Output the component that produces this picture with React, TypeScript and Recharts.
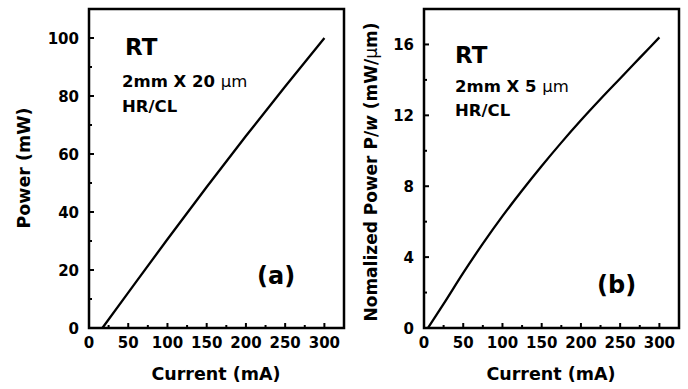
import { LineChart, Line, XAxis, YAxis, ReferenceArea } from 'recharts';

// panel (a): 2mm x 20um, power vs current
const currentA = [17, 50, 100, 150, 200, 250, 300];
const powerA = [0, 12.2, 30.6, 48.6, 66.2, 83.3, 100];

// panel (b): 2mm x 5um, normalized power vs current
const currentB = [5, 25, 50, 75, 100, 125, 150, 175, 200, 225, 250, 275, 300];
const powerB = [0, 1.36, 3.11, 4.76, 6.31, 7.76, 9.14, 10.46, 11.72, 12.92, 14.08, 15.24, 16.4];

const xTicks = [0, 25, 50, 75, 100, 125, 150, 175, 200, 225, 250, 275, 300];
const yTicksA = [0, 10, 20, 30, 40, 50, 60, 70, 80, 90, 100];
const yTicksB = [0, 2, 4, 6, 8, 10, 12, 14, 16];

const dataA = currentA.map((c, i) => ({ current: c, power: powerA[i] }));
const dataB = currentB.map((c, i) => ({ current: c, power: powerB[i] }));

const FONT = '"DejaVu Sans", sans-serif';

const XTick = ({ x, y, payload }: any) => {
  const major = payload.value % 50 === 0;
  return (
    <g>
      <line x1={x} x2={x} y1={y} y2={y - (major ? 5 : 3)} stroke="#000" strokeWidth={2} />
      {major && (
        <text x={x} y={y + 20} textAnchor="middle" fontFamily={FONT} fontWeight="bold" fontSize={15} fill="#000">
          {payload.value}
        </text>
      )}
    </g>
  );
};

const makeYTick = (step: number) => ({ x, y, payload }: any) => {
  const major = payload.value % step === 0;
  return (
    <g>
      <line x1={x} x2={x + (major ? 5 : 3)} y1={y} y2={y} stroke="#000" strokeWidth={2} />
      {major && (
        <text x={x - 10} y={y + 5.5} textAnchor="end" fontFamily={FONT} fontWeight="bold" fontSize={15} fill="#000">
          {payload.value}
        </text>
      )}
    </g>
  );
};

const YTickA = makeYTick(20);
const YTickB = makeYTick(4);

const txt = { fontFamily: FONT, fontWeight: 'bold' as const, fill: '#000' };

export default function App() {
  return (
    <div style={{ position: 'absolute', left: 0, top: 0, width: 688, height: 389, background: '#fff' }}>
      <div style={{ position: 'absolute', left: 0, top: 0 }}>
        <LineChart width={350} height={389} data={dataA} margin={{ top: 9, right: 6, bottom: 31, left: 29 }}>
          <XAxis dataKey="current" type="number" domain={[0, 325]} ticks={xTicks} interval={0}
            axisLine={false} tickLine={false} tickSize={0} tickMargin={0} height={30} tick={<XTick />} />
          <YAxis type="number" domain={[0, 110]} ticks={yTicksA} interval={0}
            axisLine={false} tickLine={false} tickSize={0} tickMargin={0} width={60} tick={<YTickA />} />
          <ReferenceArea x1={0} x2={325} y1={0} y2={110} fill="none" stroke="#000" strokeWidth={2.5} fillOpacity={0} />
          <Line type="monotone" dataKey="power" stroke="#000" strokeWidth={2.3} dot={false} isAnimationActive={false} />
        </LineChart>
      </div>
      <div style={{ position: 'absolute', left: 344, top: 0 }}>
        <LineChart width={344} height={389} data={dataB} margin={{ top: 9, right: 9, bottom: 31, left: 20 }}>
          <XAxis dataKey="current" type="number" domain={[0, 325]} ticks={xTicks} interval={0}
            axisLine={false} tickLine={false} tickSize={0} tickMargin={0} height={30} tick={<XTick />} />
          <YAxis type="number" domain={[0, 18]} ticks={yTicksB} interval={0}
            axisLine={false} tickLine={false} tickSize={0} tickMargin={0} width={60} tick={<YTickB />} />
          <ReferenceArea x1={0} x2={325} y1={0} y2={18} fill="none" stroke="#000" strokeWidth={2.5} fillOpacity={0} />
          <Line type="monotone" dataKey="power" stroke="#000" strokeWidth={2.3} dot={false} isAnimationActive={false} />
        </LineChart>
      </div>
      <svg width={688} height={389} style={{ position: 'absolute', left: 0, top: 0, pointerEvents: 'none' }}>
        {/* panel (a) text */}
        <text x={125} y={55} fontSize={23} {...txt}>RT</text>
        <text x={122} y={87} fontSize={16.5} {...txt}>2mm X 20 <tspan fontWeight="normal">μm</tspan></text>
        <text x={122} y={112} fontSize={16.5} {...txt}>HR/CL</text>
        <text x={257} y={284} fontSize={24} {...txt}>(a)</text>
        <text x={216} y={380} fontSize={17.5} textAnchor="middle" {...txt}>Current (mA)</text>
        <text x={30} y={168} fontSize={17.5} textAnchor="middle" transform="rotate(-90 30 168)" {...txt}>Power (mW)</text>
        {/* panel (b) text */}
        <text x={455} y={63} fontSize={23} {...txt}>RT</text>
        <text x={455} y={92} fontSize={16.5} {...txt}>2mm X 5 <tspan fontWeight="normal">μm</tspan></text>
        <text x={455} y={116} fontSize={16.5} {...txt}>HR/CL</text>
        <text x={597} y={293} fontSize={24} {...txt}>(b)</text>
        <text x={551} y={380} fontSize={17.5} textAnchor="middle" {...txt}>Current (mA)</text>
        <text x={377} y={172} fontSize={17} textAnchor="middle" transform="rotate(-90 377 172)" {...txt}>
          Nomalized Power P/<tspan fontStyle="italic">w</tspan> (mW/<tspan fontWeight="normal">μ</tspan>m)
        </text>
      </svg>
    </div>
  );
}
